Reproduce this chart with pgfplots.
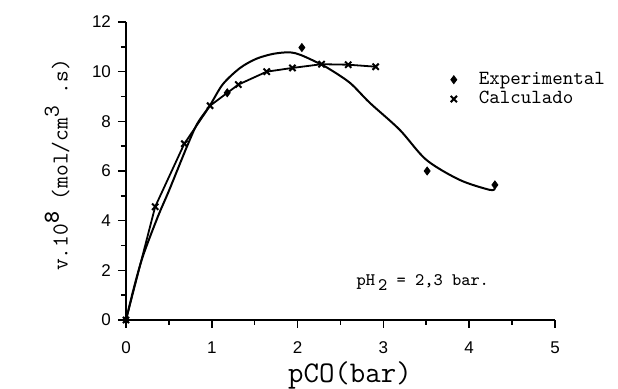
\documentclass[border=0pt]{standalone}
\usepackage{fontspec}
\setmainfont{Liberation Mono}
\newfontfamily\ticksf{Liberation Sans}
\usepackage{pgfplots}
\pgfplotsset{compat=1.18}
\begin{document}
\begin{tikzpicture}
\begin{axis}[
  at={(0,0)}, anchor=south west,
  scale only axis, width=214.5pt, height=149pt,
  xmin=0, xmax=5, ymin=0, ymax=12,
  axis lines*=left,
  axis line style={line width=0.9pt},
  xtick={0,1,2,3,4,5}, ytick={0,2,4,6,8,10,12},
  minor x tick num=1, minor y tick num=1,
  tick align=outside,
  major tick length=4pt, minor tick length=2.5pt,
  tick style={line width=0.8pt, black},
  ticklabel style={font=\ticksf\fontsize{8.5}{10}\selectfont},
  xticklabel style={yshift=-3.5pt},
  /pgf/number format/assume math mode=true,
  xlabel={pCO(bar)},
  xlabel style={font=\ttfamily\fontsize{15}{17}\selectfont, at={(axis description cs:0.522,-0.185)}, anchor=center},
  ylabel={v.10\raisebox{0.9ex}{\textbf{8}} (mol/cm\raisebox{0.9ex}{3} .s)},
  ylabel style={font=\ttfamily\fontsize{11.4}{13}\selectfont, at={(axis description cs:-0.115,0.52)}, anchor=south},
  clip=false,
  legend style={draw=none, fill=none, at={(axis cs:3.78,10.16)}, anchor=north west,
    font=\ttfamily\fontsize{10}{10}\selectfont\addfontfeature{LetterSpace=5}, row sep=-2pt, inner sep=0pt},
  legend cell align=left,
]
\addlegendimage{only marks, mark=diamond*, mark size=2pt, black}
\addlegendentry{\hspace{9pt}Experimental}
\addlegendimage{only marks, mark=x, mark size=2.2pt, black, line width=1pt}
\addlegendentry{\hspace{9pt}Calculado}

% experimental smooth curve
\addplot[black, line width=1pt, smooth, tension=0.5, forget plot] table {
x y
0 0
0.1 1.4
0.2 2.6
0.37 4.15
0.5 5.2
0.71 6.98
0.83 7.9
0.98 8.65
1.13 9.5
1.33 10.15
1.52 10.52
1.72 10.72
1.91 10.78
2.03 10.68
2.18 10.45
2.35 10.15
2.61 9.55
2.84 8.75
3.19 7.66
3.5 6.45
3.89 5.64
4.24 5.24
4.3 5.3
};
% experimental points
\addplot[only marks, mark=diamond*, mark size=2pt, black, forget plot] table {
x y
0 0
1.18 9.15
2.05 10.97
3.51 6.0
4.30 5.44
};
% calculated
\addplot[black, line width=0.9pt, mark=x, mark size=2.2pt, mark options={line width=1pt}, forget plot] table {
x y
0 0
0.34 4.56
0.68 7.1
0.98 8.63
1.31 9.48
1.64 10.0
1.94 10.15
2.28 10.3
2.59 10.28
2.91 10.2
};
\node[font=\ttfamily\fontsize{8.8}{10}\selectfont] at (axis cs:3.46,1.5) {pH\,\raisebox{-0.6ex}{2} = 2,3 bar.};
\end{axis}
\pgfresetboundingbox
\path[use as bounding box] (-63pt,-34.5pt) rectangle (246pt,160pt);
\end{tikzpicture}
\end{document}
